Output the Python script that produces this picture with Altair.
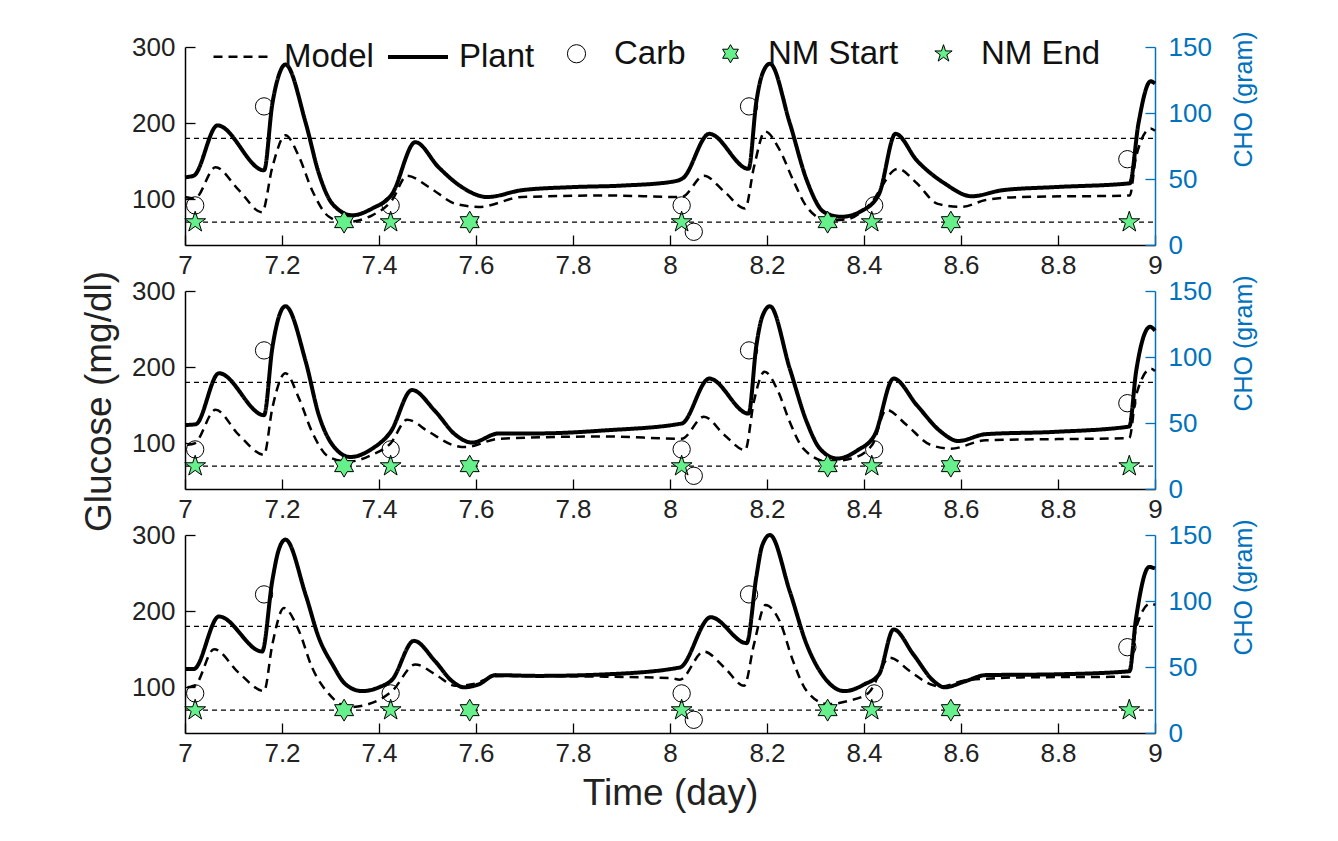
import altair as alt
import pandas as pd

FONT = "Liberation Sans"
BLUE = "#0072BD"
GREEN = "#66F08C"

# ---------------- data ----------------
thresholds = [70, 180]
time_ticks = [7, 7.2, 7.4, 7.6, 7.8, 8, 8.2, 8.4, 8.6, 8.8, 9]
glucose_ticks = [100, 200, 300]
cho_ticks = [0, 50, 100, 150]

carb_t = [7.021, 7.163, 7.424, 8.024, 8.049, 8.163, 8.421, 8.943]
carb_cho = [30, 105, 30, 30, 10, 105, 30, 65]

nm_start_t = [7.328, 7.587, 8.325, 8.579]
nm_start_g = [70, 70, 70, 70]
nm_end_t = [7.021, 7.424, 8.024, 8.416, 8.947]
nm_end_g = [70, 70, 70, 70, 70]

# panel 1
p1_plant_t = [7.0, 7.018, 7.067, 7.163, 7.18, 7.193, 7.207, 7.249, 7.276, 7.304, 7.345, 7.386, 7.427,
              7.475, 7.523, 7.571, 7.623, 7.695, 7.798, 7.901, 8.004, 8.027, 8.081, 8.162, 8.178, 8.19,
              8.206, 8.247, 8.282, 8.318, 8.353, 8.396, 8.431, 8.465, 8.509, 8.566, 8.622, 8.686,
              8.792, 8.948, 8.966, 8.991, 9.0]
p1_plant_g = [129, 131, 197, 138, 225, 262, 277, 200, 134, 94, 79, 88, 107,
              175, 142, 116, 103, 112, 116, 118, 123, 128, 186, 140, 228, 264,
              278, 200, 125, 83, 77, 85, 107, 186, 151, 121, 104, 112,
              116, 121, 200, 255, 252]
p1_model_t = [7.0, 7.02, 7.063, 7.111, 7.159, 7.18, 7.207, 7.235, 7.262, 7.297, 7.331, 7.386, 7.427,
              7.458, 7.503, 7.558, 7.606, 7.695, 7.867, 8.024, 8.07, 8.112, 8.155, 8.173, 8.196,
              8.226, 8.254, 8.282, 8.325, 8.367, 8.41, 8.47, 8.509, 8.552, 8.601, 8.651, 8.722,
              8.948, 8.961, 8.991, 9.0]
p1_model_g = [103, 101, 142, 112, 83, 142, 184, 156, 112, 77, 70, 79, 99,
              131, 116, 94, 90, 103, 105, 103, 131, 110, 88, 142, 189,
              165, 125, 90, 72, 74, 92, 140, 121, 94, 90, 99, 103,
              105, 156, 193, 190]

# panel 2
p2_plant_t = [7.0, 7.022, 7.07, 7.163, 7.18, 7.193, 7.207, 7.249, 7.276, 7.304, 7.341, 7.386, 7.424,
              7.468, 7.516, 7.558, 7.592, 7.647, 7.729, 7.867, 8.024, 8.081, 8.162, 8.178, 8.19,
              8.206, 8.247, 8.282, 8.309, 8.345, 8.387, 8.422, 8.461, 8.509, 8.559, 8.594, 8.651,
              8.792, 8.947, 8.961, 8.99, 9.0]
p2_plant_g = [124, 125, 192, 137, 225, 265, 280, 207, 137, 98, 82, 93, 115,
              170, 142, 111, 101, 113, 113, 117, 126, 185, 139, 228, 266,
              280, 198, 128, 93, 80, 91, 111, 185, 150, 115, 103, 112,
              115, 122, 194, 253, 248]
p2_model_t = [7.005, 7.02, 7.063, 7.111, 7.163, 7.18, 7.207, 7.235, 7.262, 7.297, 7.338, 7.386, 7.424,
              7.458, 7.503, 7.551, 7.578, 7.647, 7.867, 8.024, 8.07, 8.112, 8.155, 8.173, 8.195,
              8.223, 8.247, 8.275, 8.325, 8.374, 8.417, 8.446, 8.488, 8.537, 8.579, 8.651, 8.947,
              8.961, 8.992, 9.0]
p2_model_g = [98, 100, 144, 111, 85, 146, 192, 159, 115, 82, 76, 85, 100,
              131, 115, 98, 95, 106, 109, 106, 135, 111, 91, 155, 194,
              168, 128, 93, 76, 80, 98, 144, 124, 98, 93, 104, 107,
              163, 198, 195]

# panel 3
p3_plant_t = [7.0, 7.018, 7.07, 7.159, 7.18, 7.193, 7.207, 7.249, 7.276, 7.304, 7.331, 7.365, 7.4,
              7.427, 7.472, 7.516, 7.551, 7.575, 7.606, 7.64, 7.729, 7.867, 8.02, 8.084, 8.158,
              8.178, 8.19, 8.206, 8.247, 8.282, 8.318, 8.36, 8.401, 8.431, 8.461, 8.502, 8.544,
              8.566, 8.609, 8.651, 8.792, 8.947, 8.961, 8.988, 9.0]
p3_plant_g = [124, 124, 193, 147, 240, 280, 294, 221, 165, 130, 104, 95, 100,
              110, 161, 134, 108, 100, 104, 116, 115, 117, 126, 192, 158,
              245, 286, 300, 226, 156, 113, 95, 104, 117, 176, 143, 108,
              100, 108, 116, 117, 121, 191, 258, 256]
p3_model_t = [7.005, 7.02, 7.06, 7.111, 7.163, 7.18, 7.204, 7.235, 7.262, 7.297, 7.338, 7.379, 7.427,
              7.475, 7.516, 7.558, 7.592, 7.647, 7.867, 8.004, 8.02, 8.07, 8.112, 8.153, 8.173,
              8.197, 8.226, 8.254, 8.282, 8.325, 8.367, 8.41, 8.453, 8.495, 8.537, 8.559, 8.609,
              8.722, 8.947, 8.961, 8.991, 9.0]
p3_model_g = [100, 102, 150, 119, 95, 156, 204, 174, 126, 91, 74, 78, 95,
              130, 117, 102, 104, 115, 114, 112, 110, 147, 126, 102, 156,
              208, 187, 134, 95, 78, 82, 93, 139, 121, 104, 101, 109,
              113, 114, 178, 210, 208]

# ---------------- styling ----------------
W, H = 970, 198
HEX = ("M0,-1L0.2887,-0.5L0.866,-0.5L0.577,0L0.866,0.5L0.2887,0.5L0,1L-0.2887,0.5"
       "L-0.866,0.5L-0.577,0L-0.866,-0.5L-0.2887,-0.5Z")
PENT = ("M0,-1L0.2245,-0.309L0.951,-0.309L0.363,0.118L0.588,0.809L0,0.382L-0.588,0.809"
        "L-0.363,0.118L-0.951,-0.309L-0.2245,-0.309Z")

line_names = ["Model", "Plant"]
point_names = ["Carb", "NM Start", "NM End"]
dash_scale = alt.Scale(domain=line_names, range=[[9, 6], [1, 0]])
sw_scale = alt.Scale(type="point", domain=line_names, range=[2.5, 4], padding=0)
shape_scale = alt.Scale(domain=point_names, range=["circle", HEX, PENT])
fill_scale = alt.Scale(domain=point_names, range=["transparent", GREEN, GREEN])
stroke_scale = alt.Scale(domain=point_names, range=["black", "black", "black"])

t_scale = alt.Scale(domain=[7, 9], nice=False, zero=False)
g_scale = alt.Scale(domain=[40, 300], nice=False, zero=False)
c_scale = alt.Scale(domain=[0, 150], nice=False, zero=False)
cho_tick_pos = [40 + c * 260 / 150 for c in cho_ticks]


def make_panel(plant_t, plant_g, model_t, model_g, first, middle, last):
    lines_df = pd.DataFrame({
        "t": model_t + plant_t,
        "g": model_g + plant_g,
        "series": ["Model"] * len(model_t) + ["Plant"] * len(plant_t),
    })
    thr_df = pd.DataFrame({"t0": [time_ticks[0]] * 2, "t1": [time_ticks[-1]] * 2, "g": thresholds})
    stars_df = pd.DataFrame({
        "t": nm_start_t + nm_end_t,
        "g": nm_start_g + nm_end_g,
        "series": ["NM Start"] * len(nm_start_t) + ["NM End"] * len(nm_end_t),
    })
    carb_df = pd.DataFrame({"t": carb_t, "cho": carb_cho, "series": ["Carb"] * len(carb_t)})

    xkw = dict(orient="bottom", values=time_ticks, format="~g", ticks=False, domain=True,
               domainColor="black", domainWidth=1.5, labelFontSize=26, labelPadding=7,
               labelFlush=False, labelOverlap=False, labelColor="#222", grid=False)
    if last:
        xkw.update(title="Time (day)", titleFontSize=37, titleFontWeight="normal",
                   titleColor="#222", titleY=60, titleBaseline="middle")
    else:
        xkw.update(title=None)
    ykw = dict(orient="left", values=glucose_ticks, ticks=False, domain=True, domainColor="black",
               domainWidth=1.5, labelFontSize=26, labelPadding=10, labelColor="#222",
               labelOverlap=False, grid=False)
    if middle:
        ykw.update(title="Glucose (mg/dl)", titleFontSize=37, titleFontWeight="normal",
                   titleColor="#222", titleX=-86, titleY=110, titleAngle=270,
                   titleBaseline="middle", titleAlign="center")
    else:
        ykw.update(title=None)

    x_tick_axis = alt.Axis(orient="top", offset=-H, values=time_ticks, ticks=True, tickSize=10,
                           tickWidth=1.3, tickColor="black", labels=False, domain=False,
                           grid=False, title=None)
    g_tick_axis = alt.Axis(orient="right", offset=-W, values=glucose_ticks, ticks=True, tickSize=10,
                           tickWidth=1.3, tickColor="black", labels=False, domain=False,
                           grid=False, title=None)
    c_tick_axis = alt.Axis(orient="left", offset=-W, values=cho_tick_pos, ticks=True, tickSize=10,
                           tickWidth=1.3, tickColor=BLUE, labels=False, domain=False,
                           grid=False, title=None)
    c_main_axis = alt.Axis(orient="right", values=cho_ticks, ticks=False, domain=True,
                           domainColor=BLUE, domainWidth=1.5, labelFontSize=26, labelPadding=13,
                           labelColor=BLUE, labelOverlap=False, grid=False,
                           title="CHO (gram)", titleColor=BLUE, titleFontSize=25,
                           titleFontWeight="normal", titleAngle=270, titleX=88, titleY=52,
                           titleBaseline="middle", titleAlign="center")

    if first:
        leg_lines = alt.Legend(orient="none", legendX=27, legendY=-22, direction="horizontal",
                               title=None, symbolType="stroke", symbolSize=3600,
                               symbolStrokeColor="black", labelFont=FONT, labelFontSize=33,
                               labelColor="#111", labelOffset=9, columnPadding=6, labelLimit=0)
        leg_pts = alt.Legend(orient="none", legendX=375, legendY=-10, direction="horizontal",
                             title=None, symbolSize=330, symbolStrokeColor="black",
                             symbolStrokeWidth=1, labelFont=FONT, labelFontSize=33,
                             labelColor="#111", labelOffset=21, columnPadding=28, labelLimit=0)
    else:
        leg_lines = None
        leg_pts = None

    rules = alt.Chart(thr_df).mark_rule(color="black", strokeDash=[5, 4], strokeWidth=1.3).encode(
        x=alt.X("t0:Q", scale=t_scale, axis=alt.Axis(**xkw)),
        x2="t1:Q",
        y=alt.Y("g:Q", scale=g_scale, axis=alt.Axis(**ykw)),
    )
    lines = alt.Chart(lines_df).mark_line(color="black", interpolate="monotone").encode(
        x=alt.X("t:Q", scale=t_scale, axis=x_tick_axis),
        y=alt.Y("g:Q", scale=g_scale, axis=g_tick_axis),
        strokeDash=alt.StrokeDash("series:N", scale=dash_scale, legend=leg_lines),
        strokeWidth=alt.StrokeWidth("series:N", scale=sw_scale, legend=leg_lines),
        detail="series:N",
    )
    stars = alt.Chart(stars_df).mark_point(filled=True, size=480, strokeWidth=1,
                                           opacity=1).encode(
        x=alt.X("t:Q", scale=t_scale, axis=None),
        y=alt.Y("g:Q", scale=g_scale, axis=c_tick_axis),
        shape=alt.Shape("series:N", scale=shape_scale, legend=leg_pts),
        fill=alt.Fill("series:N", scale=fill_scale, legend=leg_pts),
        stroke=alt.Stroke("series:N", scale=stroke_scale, legend=leg_pts),
    )
    carbs = alt.Chart(carb_df).mark_point(filled=True, size=300, strokeWidth=1,
                                          opacity=1).encode(
        x=alt.X("t:Q", scale=t_scale, axis=None),
        y=alt.Y("cho:Q", scale=c_scale, axis=c_main_axis),
        shape=alt.Shape("series:N", scale=shape_scale, legend=leg_pts),
        fill=alt.Fill("series:N", scale=fill_scale, legend=leg_pts),
        stroke=alt.Stroke("series:N", scale=stroke_scale, legend=leg_pts),
    )
    return alt.layer(rules, lines, stars, carbs).resolve_scale(
        x="independent", y="independent").properties(width=W, height=H)


p1 = make_panel(p1_plant_t, p1_plant_g, p1_model_t, p1_model_g, True, False, False)
p2 = make_panel(p2_plant_t, p2_plant_g, p2_model_t, p2_model_g, False, True, False)
p3 = make_panel(p3_plant_t, p3_plant_g, p3_model_t, p3_model_g, False, False, True)

chart = alt.vconcat(p1, p2, p3, spacing=46, bounds="flush").resolve_scale(
    strokeDash="independent", strokeWidth="independent", shape="independent",
    fill="independent", stroke="independent"
).resolve_legend(
    strokeDash="independent", strokeWidth="independent", shape="independent",
    fill="independent", stroke="independent"
).properties(
    padding={"left": 71, "top": 17, "right": 5, "bottom": 5}, background="white"
).configure_view(stroke=None).configure_axis(labelFont=FONT, titleFont=FONT)

chart.save("out.html", embed_options={"renderer": "svg", "actions": False})
